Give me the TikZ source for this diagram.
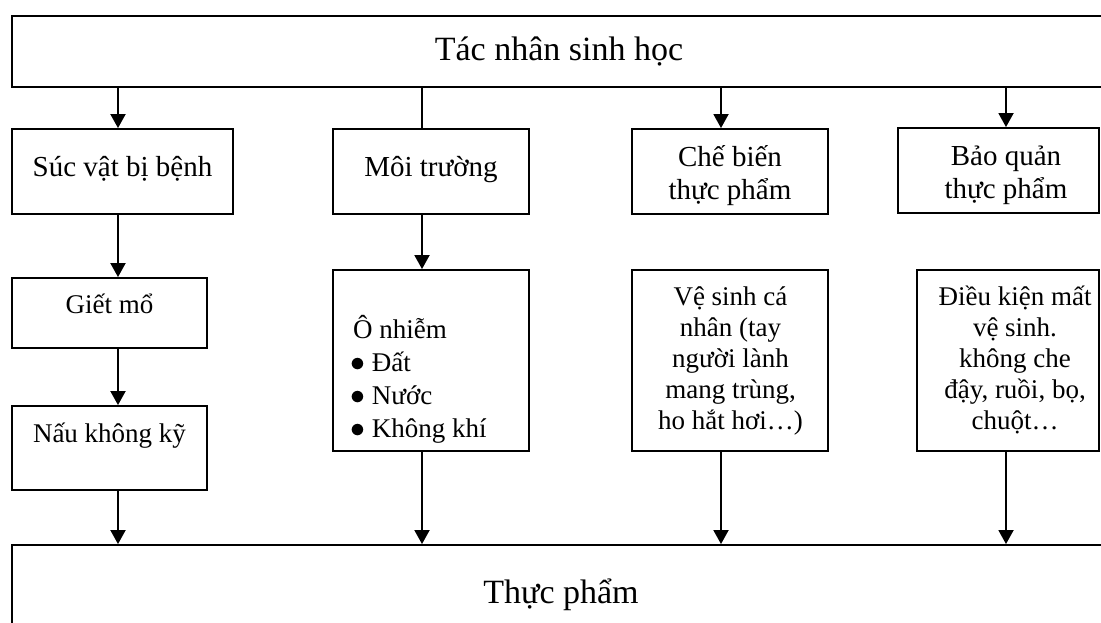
\documentclass[tikz,border=0pt]{standalone}
\usepackage{fontspec}
\usepackage{graphicx}
\setmainfont{Liberation Serif}
\usetikzlibrary{arrows.meta}
\newcommand\cstack[2]{\vtop{\baselineskip=#1\lineskiplimit=-100pt\lineskip=0pt\halign{\hfil##\hfil\cr #2\crcr}}}
\newcommand\lstack[2]{\vtop{\baselineskip=#1\lineskiplimit=-100pt\lineskip=0pt\halign{##\hfil\cr #2\crcr}}}
\newcommand\bul{\hspace*{-3pt}\raisebox{-0.5pt}{\scalebox{1.2}{$\bullet$}}}
\begin{document}
\begin{tikzpicture}[x=1pt,y=-1pt,
  box/.style={draw, line width=1.9pt, inner sep=0pt, rectangle},
  lbl/.style={inner sep=0pt, anchor=base, font=\fontsize{29}{33}\selectfont},
  sml/.style={inner sep=0pt, anchor=base, font=\fontsize{27}{31}\selectfont},
  big/.style={inner sep=0pt, anchor=base, font=\fontsize{34}{40}\selectfont},
  arr/.style={line width=1.9pt, -{Triangle[width=15pt,length=14pt]}},
  plain/.style={line width=1.9pt}]
\clip (0,0) rectangle (1101,622);
% boxes
\node[box, minimum width=1096pt, minimum height=71pt] (top) at (560,51.5) {};
\node[box, minimum width=221pt, minimum height=85pt] (b1) at (122.5,171.5) {};
\node[box, minimum width=196pt, minimum height=85pt] (b2) at (431,171.5) {};
\node[box, minimum width=196pt, minimum height=85pt] (b3) at (730,171.5) {};
\node[box, minimum width=201pt, minimum height=85pt] (b4) at (998.5,170.5) {};
\node[box, minimum width=195pt, minimum height=70pt] (c1) at (109.5,313) {};
\node[box, minimum width=195pt, minimum height=84pt] (c2) at (109.5,448) {};
\node[box, minimum width=196pt, minimum height=181pt] (d) at (431,360.5) {};
\node[box, minimum width=196pt, minimum height=181pt] (e) at (730,360.5) {};
\node[box, minimum width=182pt, minimum height=181pt] (f) at (1008,360.5) {};
\node[box, minimum width=1098pt, minimum height=100pt] (bot) at (561,595) {};
% texts
\node[big] (ttop) at (559,60) {Tác nhân sinh học};
\node[lbl] (tb1) at (122.5,176) {Súc vật bị bệnh};
\node[lbl] (tb2) at (431,176) {Môi trường};
\node[lbl] (tb3) at (730,166) {\cstack{33pt}{Chế biến\cr thực phẩm}};
\node[lbl] (tb4) at (1006,165) {\cstack{33pt}{Bảo quản\cr thực phẩm}};
\node[sml] (tc1) at (109.5,313) {Giết mổ};
\node[sml] (tc2) at (109.5,442) {Nấu không kỹ};
\node[sml, anchor=base west] (td) at (353,338) {\lstack{33pt}{Ô nhiễm\cr \bul{} Đất\cr \bul{} Nước\cr \bul{} Không khí}};
\node[sml] (te) at (730.5,305) {\cstack{31pt}{Vệ sinh cá\cr nhân (tay\cr người lành\cr mang trùng,\cr ho hắt hơi…)}};
\node[sml] (tf) at (1015,305) {\cstack{31pt}{Điều kiện mất\cr vệ sinh.\cr không che\cr đậy, ruồi, bọ,\cr chuột…}};
\node[big] (tbot) at (561,603) {Thực phẩm};
% column coordinates
\coordinate (X1) at (118,0);
\coordinate (X2) at (422,0);
\coordinate (X3) at (721,0);
\coordinate (X4) at (1006,0);
% connectors
\draw[arr] (top.south -| X1) -- (b1.north -| X1);
\draw[plain] (top.south -| X2) -- (b2.north -| X2);
\draw[arr] (top.south -| X3) -- (b3.north -| X3);
\draw[arr] (top.south -| X4) -- (b4.north -| X4);
\draw[arr] (b1.south -| X1) -- (c1.north -| X1);
\draw[arr] (c1.south -| X1) -- (c2.north -| X1);
\draw[arr] (c2.south -| X1) -- (bot.north -| X1);
\draw[arr] (b2.south -| X2) -- (d.north -| X2);
\draw[arr] (d.south -| X2) -- (bot.north -| X2);
\draw[arr] (e.south -| X3) -- (bot.north -| X3);
\draw[arr] (f.south -| X4) -- (bot.north -| X4);
\end{tikzpicture}
\end{document}
